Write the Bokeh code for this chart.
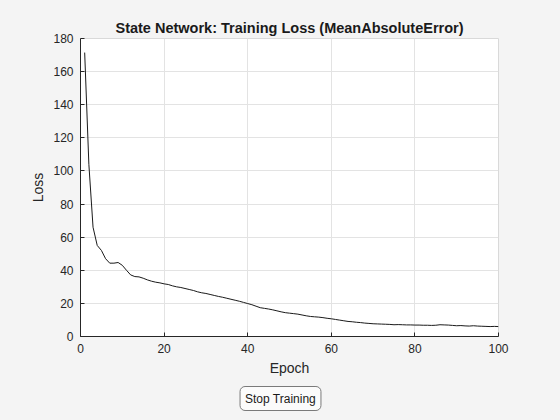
from bokeh.plotting import figure
from bokeh.models import ColumnDataSource, Range1d, Label, FixedTicker
from bokeh.layouts import column
from bokeh.embed import file_html
from bokeh.resources import INLINE

epochs = list(range(1, 101))
loss = [171.5, 104, 66, 55, 52, 47, 44.3, 44.3, 44.7, 43,
        40, 37.2, 36.2, 36, 35.2, 34.2, 33.4, 32.8, 32.4, 31.8,
        31.4, 30.6, 30, 29.6, 29, 28.4, 27.8, 27, 26.4, 26,
        25.4, 24.8, 24.2, 23.7, 23.1, 22.5, 21.9, 21.3, 20.6, 19.9,
        19.2, 18.3, 17.4, 17.0, 16.6, 16.1, 15.5, 14.9, 14.4, 14.1,
        13.8, 13.5, 13.0, 12.5, 12.1, 11.9, 11.7, 11.4, 11.0, 10.7,
        10.3, 9.9, 9.5, 9.1, 8.9, 8.6, 8.4, 8.1, 7.9, 7.7,
        7.6, 7.5, 7.4, 7.3, 7.1, 7.2, 7.1, 7.0, 7.0, 6.9,
        6.9, 6.8, 6.8, 6.7, 6.8, 7.1, 7.0, 6.9, 6.7, 6.5,
        6.6, 6.4, 6.3, 6.5, 6.3, 6.2, 6.1, 6.0, 6.1, 6.0]
x_ticks = [0, 20, 40, 60, 80, 100]
y_ticks = [0, 20, 40, 60, 80, 100, 120, 140, 160, 180]
title_text = "State Network: Training Loss (MeanAbsoluteError)"
button_text = "Stop Training"

FONT = "Liberation Sans"
BG = "#f4f4f4"

p = figure(width=560, height=380, output_backend="svg", toolbar_location=None,
           x_range=Range1d(0, 100), y_range=Range1d(0, 180),
           min_border_left=80, min_border_right=62, min_border_top=38, min_border_bottom=44)
p.background_fill_color = "white"
p.border_fill_color = BG
p.outline_line_color = "#d9d9d9"
p.outline_line_width = 1

p.title.text = title_text
p.title.align = "center"
p.title.text_font = FONT
p.title.text_font_size = "14.5px"
p.title.text_font_style = "bold"
p.title.text_color = "#1a1a1a"
p.title.standoff = 6

src = ColumnDataSource(dict(x=epochs, y=loss))
p.line("x", "y", source=src, line_color="#1a1a1a", line_width=1)

for ax, ticks in ((p.xaxis[0], x_ticks), (p.yaxis[0], y_ticks)):
    ax.ticker = FixedTicker(ticks=ticks)
    ax.axis_line_color = "#262626"
    ax.major_tick_line_color = "#262626"
    ax.major_tick_in = 4
    ax.major_tick_out = 0
    ax.minor_tick_line_color = None
    ax.major_label_text_font = FONT
    ax.major_label_text_font_size = "12px"
    ax.major_label_text_color = "#262626"
    ax.axis_label_text_font = FONT
    ax.axis_label_text_font_size = "14px"
    ax.axis_label_text_font_style = "normal"
    ax.axis_label_text_color = "#262626"

p.xaxis.axis_label = "Epoch"
p.yaxis.axis_label = "Loss"
p.xaxis.major_label_standoff = 7
p.yaxis.major_label_standoff = 7
p.xaxis.axis_label_standoff = 4
p.yaxis.axis_label_standoff = 4

p.xgrid.ticker = FixedTicker(ticks=x_ticks)
p.ygrid.ticker = FixedTicker(ticks=y_ticks)
p.grid.grid_line_color = "#e3e3e3"
p.grid.grid_line_width = 1

# strip holding the "Stop Training" button
pb = figure(width=560, height=36, output_backend="svg", toolbar_location=None,
            x_range=Range1d(0, 1), y_range=Range1d(0, 1),
            x_axis_location=None, y_axis_location=None, min_border=0)
pb.grid.visible = False
pb.outline_line_color = None
pb.background_fill_color = BG
pb.border_fill_color = BG
btn = Label(x=0.5, y=0.5, x_offset=-9, text=button_text,
            text_font=FONT, text_font_size="12px", text_color="#1a1a1a",
            text_align="center", text_baseline="middle",
            background_fill_color="#fbfbfb", border_line_color="#7a7a7a",
            border_line_width=1, padding=5, border_radius=5)
pb.add_layout(btn)

layout = column(p, pb, spacing=0)
html = file_html(layout, INLINE)
html = html.replace("<head>", "<head><style>body{background:%s;}</style>" % BG, 1)
open("out.html", "w").write(html)
